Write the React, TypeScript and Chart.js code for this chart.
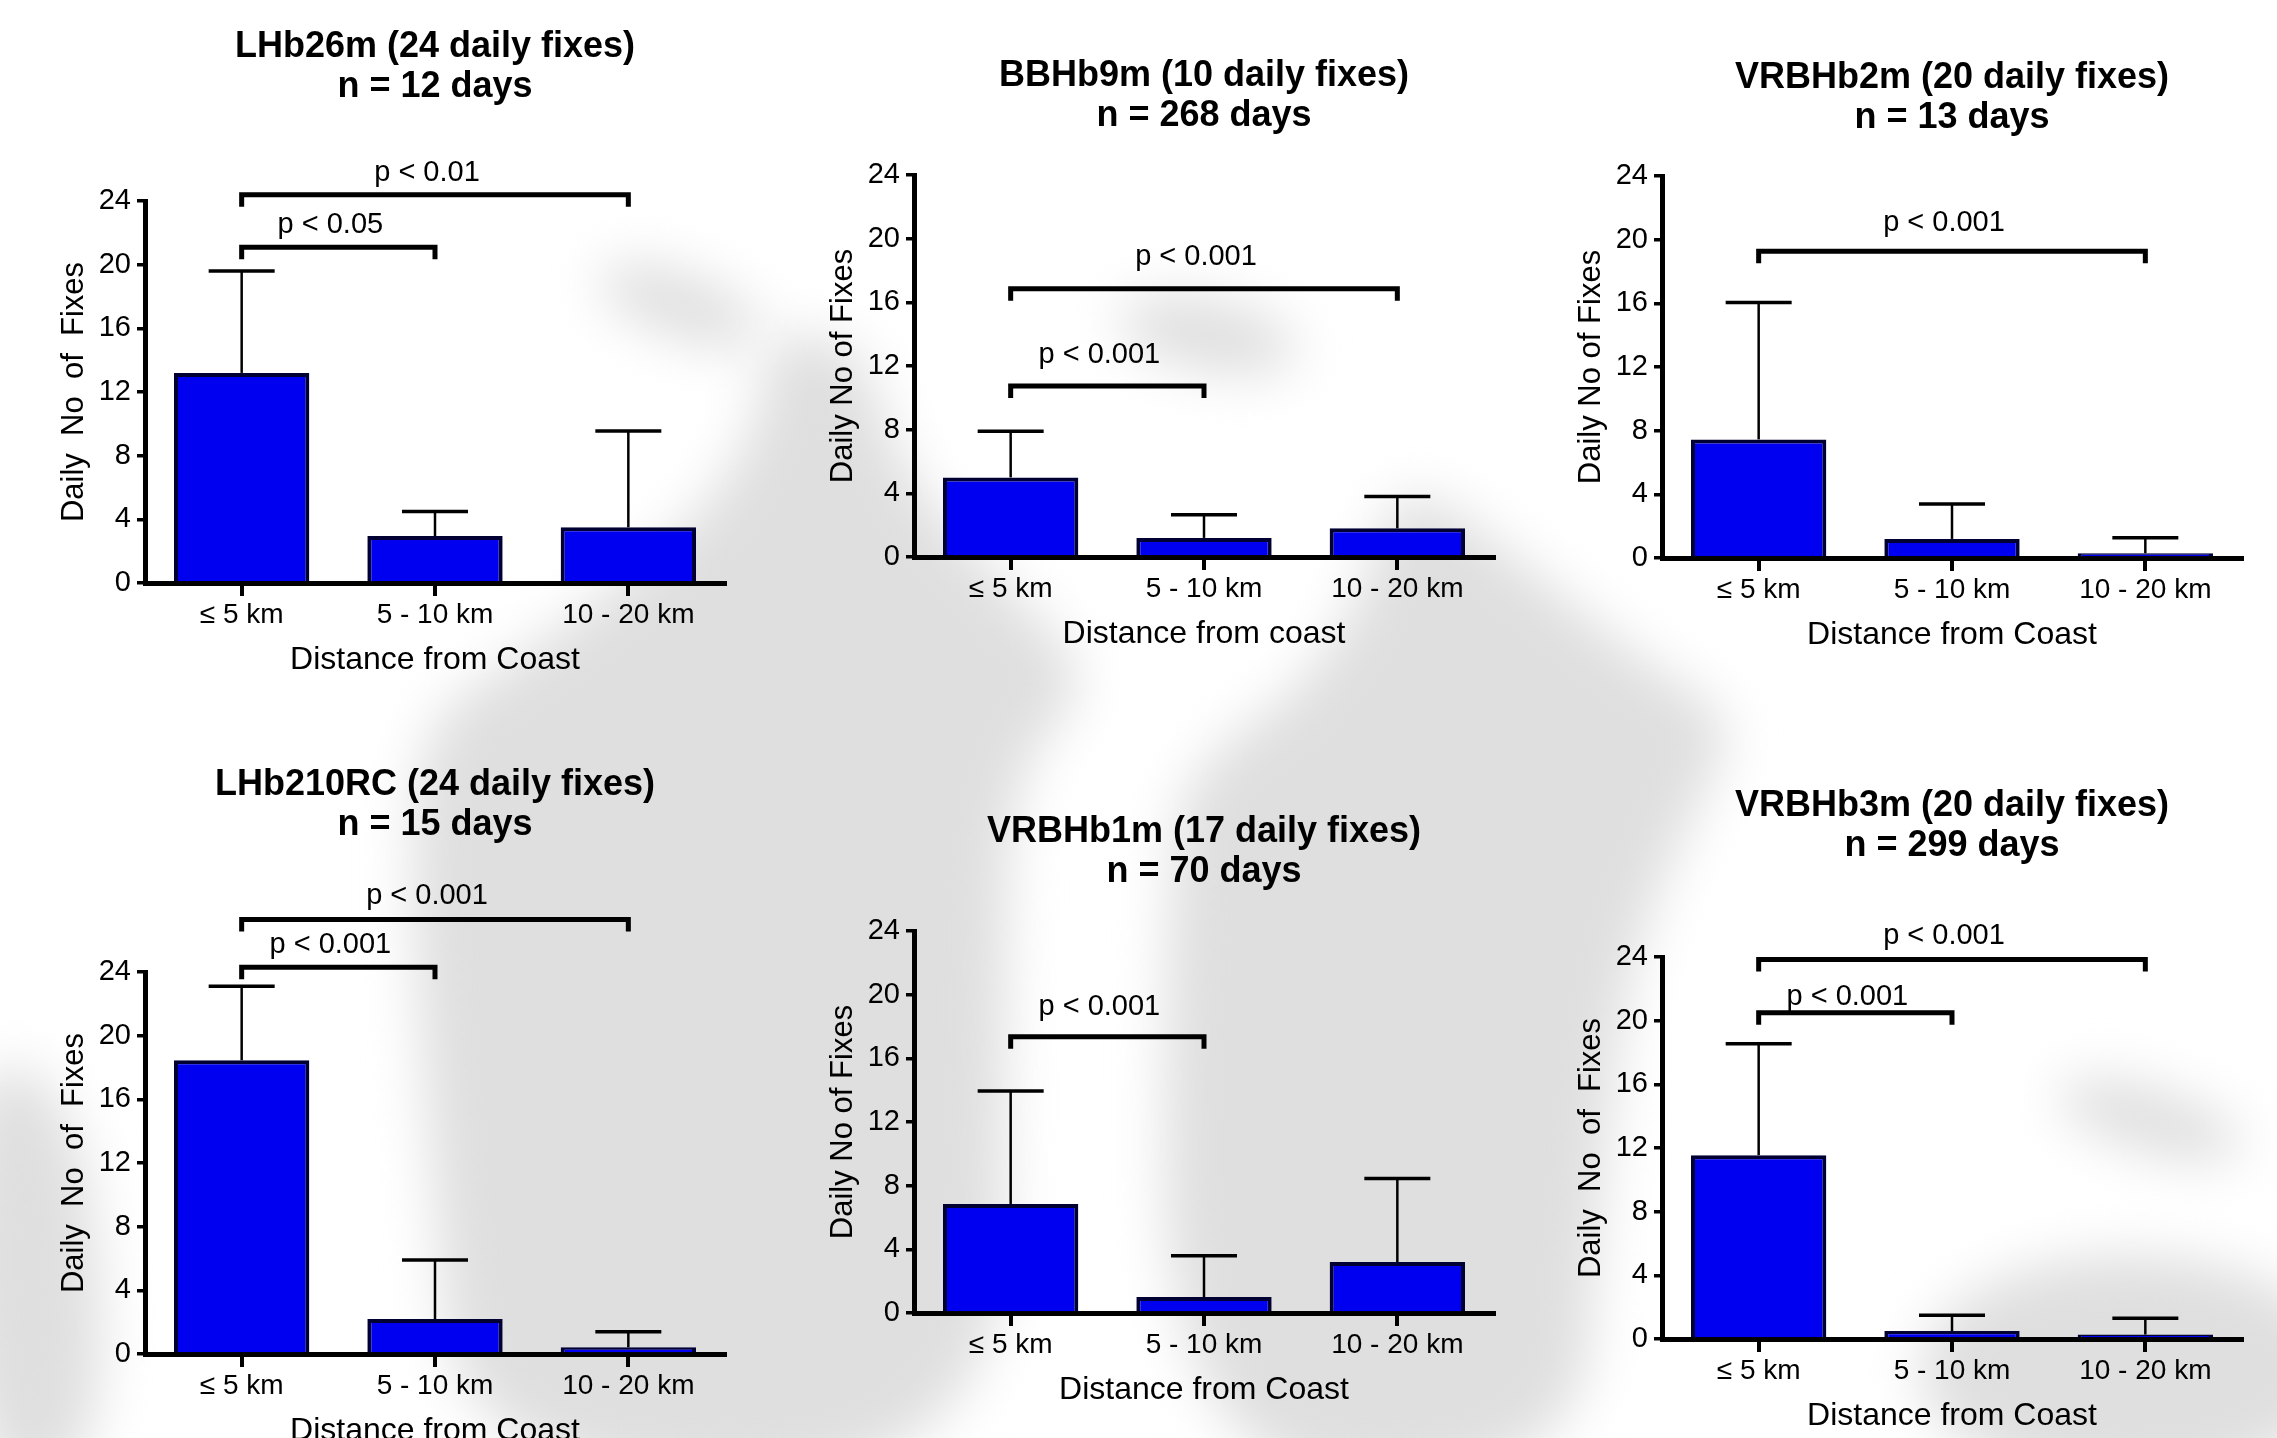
import React, { useEffect, useRef } from "react";
import { Chart, registerables } from "chart.js";

Chart.register(...registerables);

const FONT = "'Liberation Sans', Arial, sans-serif";

// ---- data ----
const categories = ["≤ 5 km", "5 - 10 km", "10 - 20 km"];
const yTickMax = 24;
const yTickStep = 4;

const p1Title = ["LHb26m (24 daily fixes)", "n = 12 days"];
const p1Means = [13.2, 2.95, 3.5];
const p1Sd = [6.4, 1.55, 6.05];
const p1PLabels = ["p < 0.01", "p < 0.05"];
const p1PLevels = [24.4, 21.1];
const p1PPairs = [[0, 2], [0, 1]];

const p2Title = ["BBHb9m (10 daily fixes)", "n = 268 days"];
const p2Means = [5.0, 1.2, 1.8];
const p2Sd = [2.9, 1.45, 2.0];
const p2PLabels = ["p < 0.001", "p < 0.001"];
const p2PLevels = [16.85, 10.75];
const p2PPairs = [[0, 2], [0, 1]];

const p3Title = ["VRBHb2m (20 daily fixes)", "n = 13 days"];
const p3Means = [7.45, 1.2, 0.3];
const p3Sd = [8.6, 2.2, 0.97];
const p3PLabels = ["p < 0.001"];
const p3PLevels = [19.27];
const p3PPairs = [[0, 2]];

const p4Title = ["LHb210RC (24 daily fixes)", "n = 15 days"];
const p4Means = [18.45, 2.2, 0.42];
const p4Sd = [4.65, 3.7, 0.98];
const p4PLabels = ["p < 0.001", "p < 0.001"];
const p4PLevels = [27.3, 24.3];
const p4PPairs = [[0, 2], [0, 1]];

const p5Title = ["VRBHb1m (17 daily fixes)", "n = 70 days"];
const p5Means = [6.85, 1.0, 3.2];
const p5Sd = [7.1, 2.6, 5.25];
const p5PLabels = ["p < 0.001"];
const p5PLevels = [17.35];
const p5PPairs = [[0, 1]];

const p6Title = ["VRBHb3m (20 daily fixes)", "n = 299 days"];
const p6Means = [11.55, 0.5, 0.28];
const p6Sd = [7.0, 1.0, 1.02];
const p6PLabels = ["p < 0.001", "p < 0.001"];
const p6PLevels = [23.85, 20.5];
const p6PPairs = [[0, 2], [0, 1]];

// ---- layout ----
const PLOT_W = 580;
const PLOT_H = 382;
const LEFT_AREA = 145;
const TOP_AREA = 240;
const RIGHT_AREA = 40;
const BOTTOM_AREA = 110;

type PanelCfg = {
  title: string[];
  means: number[];
  sd: number[];
  pLabels: string[];
  pLevels: number[];
  pPairs: number[][];
  pGaps: number[];
  plotLeft: number;
  plotTop: number;
  titleOffset: number;
  yTitle: string;
  xTitle: string;
};

const panels: PanelCfg[] = [
  { title: p1Title, means: p1Means, sd: p1Sd, pLabels: p1PLabels, pLevels: p1PLevels, pPairs: p1PPairs, pGaps: [22, 22],
    plotLeft: 145, plotTop: 201, titleOffset: -154, yTitle: "Daily  No  of  Fixes", xTitle: "Distance from Coast" },
  { title: p2Title, means: p2Means, sd: p2Sd, pLabels: p2PLabels, pLevels: p2PLevels, pPairs: p2PPairs, pGaps: [32, 31],
    plotLeft: 914, plotTop: 175, titleOffset: -99, yTitle: "Daily No of Fixes", xTitle: "Distance from coast" },
  { title: p3Title, means: p3Means, sd: p3Sd, pLabels: p3PLabels, pLevels: p3PLevels, pPairs: p3PPairs, pGaps: [28],
    plotLeft: 1662, plotTop: 176, titleOffset: -98, yTitle: "Daily No of Fixes", xTitle: "Distance from Coast" },
  { title: p4Title, means: p4Means, sd: p4Sd, pLabels: p4PLabels, pLevels: p4PLevels, pPairs: p4PPairs, pGaps: [23, 22],
    plotLeft: 145, plotTop: 972, titleOffset: -187, yTitle: "Daily  No  of  Fixes", xTitle: "Distance from Coast" },
  { title: p5Title, means: p5Means, sd: p5Sd, pLabels: p5PLabels, pLevels: p5PLevels, pPairs: p5PPairs, pGaps: [30],
    plotLeft: 914, plotTop: 931, titleOffset: -99, yTitle: "Daily No of Fixes", xTitle: "Distance from Coast" },
  { title: p6Title, means: p6Means, sd: p6Sd, pLabels: p6PLabels, pLevels: p6PLevels, pPairs: p6PPairs, pGaps: [23, 16],
    plotLeft: 1662, plotTop: 957, titleOffset: -151, yTitle: "Daily  No  of  Fixes", xTitle: "Distance from Coast" },
];

function Panel({ cfg }: { cfg: PanelCfg }) {
  const ref = useRef<HTMLCanvasElement>(null);
  const cw = LEFT_AREA + PLOT_W + RIGHT_AREA;
  const ch = TOP_AREA + PLOT_H + BOTTOM_AREA;

  useEffect(() => {
    if (!ref.current) return;
    const overlay = {
      id: "overlay",
      afterDatasetsDraw(chart: any) {
        const { ctx, scales } = chart;
        const x = scales.x;
        const y = scales.y;
        ctx.save();
        ctx.strokeStyle = "#000";
        ctx.lineCap = "butt";
        cfg.means.forEach((m, i) => {
          const xp = x.getPixelForValue(i);
          const y0 = y.getPixelForValue(m);
          const y1 = y.getPixelForValue(m + cfg.sd[i]);
          ctx.lineWidth = 2.5;
          ctx.beginPath();
          ctx.moveTo(xp, y0);
          ctx.lineTo(xp, y1);
          ctx.stroke();
          ctx.lineWidth = 3.5;
          ctx.beginPath();
          ctx.moveTo(xp - 33, y1);
          ctx.lineTo(xp + 33, y1);
          ctx.stroke();
        });
        ctx.restore();
      },
      afterDraw(chart: any) {
        const { ctx, chartArea, scales } = chart;
        const x = scales.x;
        const y = scales.y;
        ctx.save();
        ctx.fillStyle = "#000";
        ctx.textAlign = "center";
        ctx.textBaseline = "middle";
        const cx = (chartArea.left + chartArea.right) / 2;
        ctx.font = `bold 36px ${FONT}`;
        cfg.title.forEach((t, i) => {
          ctx.fillText(t, cx, chartArea.top + cfg.titleOffset + i * 40);
        });
        ctx.strokeStyle = "#000";
        ctx.lineWidth = 5;
        ctx.lineJoin = "miter";
        ctx.font = `29px ${FONT}`;
        cfg.pLabels.forEach((lab, i) => {
          const [a, b] = cfg.pPairs[i];
          const x1 = x.getPixelForValue(a);
          const x2 = x.getPixelForValue(b);
          const yp = y.getPixelForValue(cfg.pLevels[i]);
          ctx.beginPath();
          ctx.moveTo(x1, yp + 12);
          ctx.lineTo(x1, yp);
          ctx.lineTo(x2, yp);
          ctx.lineTo(x2, yp + 12);
          ctx.stroke();
          ctx.fillText(lab, (x1 + x2) / 2 - 8, yp - cfg.pGaps[i]);
        });
        ctx.restore();
      },
    };

    const chart = new Chart(ref.current, {
      type: "bar",
      data: {
        labels: categories,
        datasets: [
          {
            data: cfg.means,
            backgroundColor: "#0000f0",
            borderColor: "#000033",
            borderWidth: 4,
            barPercentage: 0.7,
            categoryPercentage: 1,
          },
        ],
      },
      options: {
        responsive: false,
        animation: false,
        devicePixelRatio: 1,
        layout: { padding: { left: 0, top: TOP_AREA, right: RIGHT_AREA, bottom: 0 } },
        plugins: {
          legend: { display: false },
          tooltip: { enabled: false },
          title: { display: false },
        },
        scales: {
          x: {
            type: "category",
            offset: true,
            grid: {
              display: true,
              drawOnChartArea: false,
              drawTicks: true,
              tickLength: 13,
              lineWidth: 4,
              color: "#000",
              offset: false,
            },
            border: { display: true, color: "#000", width: 5 },
            ticks: {
              color: "#000",
              font: { family: FONT, size: 28 },
              padding: 2,
              maxRotation: 0,
              autoSkip: false,
            },
            title: {
              display: true,
              text: cfg.xTitle,
              color: "#000",
              font: { family: FONT, size: 32 },
              padding: { top: 0, bottom: 14 },
            },
            afterFit: (s: any) => {
              s.height = BOTTOM_AREA;
            },
          },
          y: {
            min: 0,
            max: yTickMax,
            ticks: {
              stepSize: yTickStep,
              color: "#000",
              font: { family: FONT, size: 29 },
              padding: 6,
            },
            grid: {
              display: true,
              drawOnChartArea: false,
              drawTicks: true,
              tickLength: 8,
              lineWidth: 3.5,
              color: "#000",
            },
            border: { display: true, color: "#000", width: 5 },
            title: {
              display: true,
              text: cfg.yTitle,
              color: "#000",
              font: { family: FONT, size: 31 },
              padding: { top: 56, bottom: 0 },
            },
            afterFit: (s: any) => {
              s.width = LEFT_AREA;
            },
          },
        },
      },
      plugins: [overlay],
    } as any);
    return () => chart.destroy();
  }, [cfg]);

  return (
    <canvas
      ref={ref}
      width={cw}
      height={ch}
      style={{
        position: "absolute",
        left: cfg.plotLeft - LEFT_AREA,
        top: cfg.plotTop - TOP_AREA,
        width: cw,
        height: ch,
      }}
    />
  );
}

function smoothShape(ctx: CanvasRenderingContext2D, pts: number[][]) {
  const n = pts.length;
  ctx.beginPath();
  const mid = (a: number[], b: number[]) => [(a[0] + b[0]) / 2, (a[1] + b[1]) / 2];
  const start = mid(pts[n - 1], pts[0]);
  ctx.moveTo(start[0], start[1]);
  for (let i = 0; i < n; i++) {
    const p = pts[i];
    const m = mid(p, pts[(i + 1) % n]);
    ctx.quadraticCurveTo(p[0], p[1], m[0], m[1]);
  }
  ctx.closePath();
  ctx.fill();
}

function Watermark() {
  const ref = useRef<HTMLCanvasElement>(null);
  useEffect(() => {
    const c = ref.current;
    if (!c) return;
    const ctx = c.getContext("2d");
    if (!ctx) return;
    ctx.fillStyle = "#ffffff";
    ctx.fillRect(0, 0, c.width, c.height);
    ctx.filter = "blur(26px)";
    ctx.fillStyle = "#dfdfdf";
    // left crescent
    smoothShape(ctx, [
      [770, 330], [860, 340], [900, 470], [1000, 580], [1100, 680],
      [1010, 770], [1005, 1000], [1002, 1480], [460, 1480], [430, 1150],
      [410, 900], [420, 720], [533, 650], [700, 520], [760, 420],
    ]);
    // smudge at the tip of the left crescent
    ctx.beginPath();
    ctx.ellipse(680, 305, 85, 32, 0.35, 0, Math.PI * 2);
    ctx.fill();
    // right crescent
    smoothShape(ctx, [
      [1400, 470], [1520, 560], [1640, 660], [1740, 720], [1700, 800],
      [1630, 950], [1600, 1200], [1580, 1480], [1165, 1480], [1165, 850],
      [1200, 760], [1300, 690], [1360, 600],
    ]);
    // top smudge of right crescent
    ctx.beginPath();
    ctx.ellipse(1208, 335, 90, 36, 0.2, 0, Math.PI * 2);
    ctx.fill();
    // bottom-left edge
    smoothShape(ctx, [[-40, 1040], [90, 1100], [110, 1480], [-40, 1480]]);
    // bottom-right
    ctx.beginPath();
    ctx.ellipse(2130, 1370, 210, 115, 0, 0, Math.PI * 2);
    ctx.fill();
    ctx.beginPath();
    ctx.ellipse(2150, 1120, 95, 32, 0.3, 0, Math.PI * 2);
    ctx.fill();
  }, []);
  return (
    <canvas
      ref={ref}
      width={2277}
      height={1438}
      style={{ position: "absolute", left: 0, top: 0, width: 2277, height: 1438 }}
    />
  );
}

export default function App() {
  return (
    <div
      style={{
        position: "fixed",
        left: 0,
        top: 0,
        width: 2277,
        height: 1438,
        overflow: "hidden",
        background: "#ffffff",
      }}
    >
      <Watermark />
      {panels.map((p, i) => (
        <Panel key={i} cfg={p} />
      ))}
    </div>
  );
}
